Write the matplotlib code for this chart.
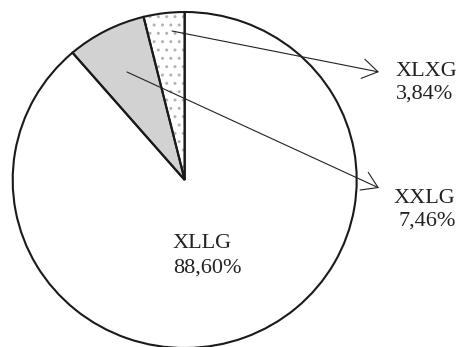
import matplotlib.pyplot as plt

labels = ['XLXG', 'XXLG', 'XLLG']
values = [3.84, 7.46, 88.60]
pct_text = ['3,84%', '7,46%', '88,60%']

W, H = 459, 347
# pie is a little squashed vertically in the reference
xr, yr = 172, 168
yscale = xr / yr
cx, cy = 184.7, 180

fig = plt.figure(figsize=(W / 100, H / 100), dpi=100)
ax = fig.add_axes([0, 0, 1, 1])

# filled wedges (hatch colour follows edgecolor, so no outline here)
fills = ax.pie(values, startangle=90, counterclock=True, radius=xr,
               center=(cx, (H - cy) * yscale),
               colors=['white', '#d2d2d2', 'white'],
               wedgeprops=dict(linewidth=0, edgecolor='white'))[0]
fills[0].set_hatch('..')
fills[0].set_edgecolor('#b4b4b4')

# black outlines on top
ax.pie(values, startangle=90, counterclock=True, radius=xr,
       center=(cx, (H - cy) * yscale),
       wedgeprops=dict(facecolor='none', edgecolor='#1a1a1a', linewidth=1.5))

ax.set_aspect('auto')
ax.set_xlim(0, W)
ax.set_ylim(0, H * yscale)
ax.axis('off')

# overlay in pixel coordinates for labels and arrows
ax2 = fig.add_axes([0, 0, 1, 1])
ax2.set_xlim(0, W)
ax2.set_ylim(H, 0)
ax2.axis('off')
ax2.patch.set_alpha(0)

font = dict(family='Liberation Serif', fontsize=16, color='#222222', va='baseline')

arrow = dict(arrowstyle='->,head_length=1.1,head_width=0.7', lw=0.8,
             color='#222222', shrinkA=0, shrinkB=0, mutation_scale=10)
ax2.annotate('', xy=(379, 72), xytext=(172, 31), arrowprops=arrow)
ax2.annotate('', xy=(379, 188), xytext=(127, 72), arrowprops=arrow)

ax2.text(396, 76, labels[0], **font)
ax2.text(396, 99, pct_text[0], **font)
ax2.text(394, 203, labels[1], **font)
ax2.text(399, 226, pct_text[1], **font)
ax2.text(173, 248, labels[2], **font)
ax2.text(173, 273, pct_text[2], **font)

fig.savefig('out.png', dpi=100)
